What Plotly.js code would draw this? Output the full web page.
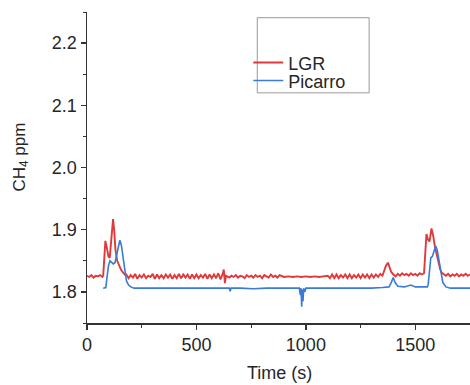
<!DOCTYPE html>
<html>
<head>
<meta charset="utf-8">
<script src="https://cdn.plot.ly/plotly-3.0.1.min.js"></script>
<style>html,body{margin:0;padding:0;background:#fff;}#chart{width:470px;height:385px;}</style>
</head>
<body>
<div id="chart"></div>
<script>
// ---- Data ----
const lgrTime = [0,10,20,30,40,50,60,70,74,80,84,90,98,104,110,115,119,124,130,138,146,155,167,175,
  180,190,200,210,220,230,240,250,260,270,280,290,300,310,320,330,340,350,360,370,380,390,400,410,420,430,440,450,460,470,480,490,500,510,520,530,540,550,560,570,580,590,600,610,620,625,630,635,
  640,650,660,670,680,690,700,710,720,730,740,750,760,770,780,790,800,810,820,830,840,850,860,870,880,890,
  900,920,940,960,980,1000,1020,1040,1060,1080,1100,
  1110,1120,1130,1140,1150,1160,1170,1180,1190,1200,1210,1220,1230,1240,1250,1260,1270,1280,1290,1300,1310,1320,1330,1340,1350,1358,1366,1375,1382,1390,1400,1410,1420,1430,1440,1450,1460,1470,1480,1490,1500,1510,1520,1530,1540,
  1546,1551,1558,1565,1574,1582,1590,1598,1606,1614,1620,1630,1640,1650,1660,1670,1680,1690,1700,1710,1720,1730,1740,1750];
const lgrValues = [1.826,1.824,1.827,1.823,1.826,1.825,1.827,1.824,1.826,1.870,1.882,1.872,1.857,1.855,1.880,1.905,1.917,1.900,1.868,1.850,1.842,1.836,1.830,1.827,
  1.828,1.822,1.827,1.823,1.829,1.821,1.827,1.823,1.828,1.822,1.826,1.824,1.829,1.821,1.828,1.822,1.827,1.822,1.828,1.823,1.828,1.821,1.827,1.822,1.829,1.822,1.828,1.823,1.828,1.821,1.828,1.822,1.828,1.822,1.827,1.823,1.829,1.821,1.828,1.822,1.828,1.822,1.830,1.820,1.829,1.836,1.814,1.826,
  1.825,1.823,1.826,1.824,1.827,1.823,1.826,1.825,1.822,1.827,1.824,1.826,1.823,1.827,1.824,1.826,1.822,1.827,1.825,1.823,1.828,1.824,1.826,1.823,1.827,1.825,
  1.824,1.825,1.824,1.825,1.824,1.825,1.824,1.825,1.824,1.825,1.826,
  1.822,1.828,1.822,1.828,1.822,1.827,1.823,1.828,1.822,1.828,1.822,1.827,1.823,1.828,1.822,1.828,1.823,1.828,1.822,1.828,1.823,1.828,1.824,1.829,1.826,1.834,1.842,1.847,1.840,1.832,1.828,1.825,1.829,1.826,1.830,1.827,1.829,1.826,1.830,1.827,1.829,1.826,1.830,1.828,1.830,
  1.862,1.893,1.884,1.881,1.902,1.890,1.872,1.858,1.845,1.836,1.831,1.828,1.826,1.829,1.825,1.828,1.826,1.829,1.825,1.828,1.826,1.829,1.826,1.828];

const picTime = [74,80,86,92,98,105,112,120,128,135,142,150,157,164,172,180,190,200,215,
  260,320,380,440,500,560,620,650,654,658,700,760,820,880,940,970,975,978,981,984,987,990,995,1000,
  1060,1120,1180,1240,1300,1350,1380,1390,1399,1408,1420,1450,1480,1500,1530,1555,
  1559,1565,1571,1578,1586,1593,1600,1608,1616,1626,1640,1660,1700,1750];
const picValues = [1.806,1.806,1.807,1.825,1.842,1.850,1.848,1.845,1.847,1.858,1.872,1.883,1.875,1.855,1.832,1.818,1.811,1.808,1.806,
  1.806,1.805,1.806,1.806,1.805,1.806,1.805,1.806,1.801,1.806,1.806,1.805,1.806,1.806,1.805,1.806,1.795,1.806,1.776,1.804,1.785,1.806,1.800,1.806,
  1.806,1.806,1.805,1.806,1.806,1.807,1.808,1.815,1.823,1.815,1.809,1.808,1.811,1.808,1.808,1.808,
  1.812,1.838,1.855,1.857,1.866,1.874,1.868,1.852,1.835,1.815,1.808,1.806,1.806,1.806];

const seriesNames = ['LGR', 'Picarro'];
const xTickVals = [0, 500, 1000, 1500];
const yTickVals = [1.8, 1.9, 2.0, 2.1, 2.2];

// ---- Layout / styling ----
const FONT = 'Liberation Sans, Arial, sans-serif';
const TXT = '#262626';
const AX = '#333';
const L = 86.5, T = 12.3, W = 383.5, H = 310.4;
const px = v => (v - L) / W;
const py = v => 1 - (v - T) / H;

const traces = [
  {x: lgrTime, y: lgrValues, name: seriesNames[0], type: 'scatter', mode: 'lines',
   line: {color: '#e0393b', width: 1.9}, legend: 'legend'},
  {x: picTime, y: picValues, name: seriesNames[1], type: 'scatter', mode: 'lines',
   line: {color: '#3a7bd8', width: 1.6}, legend: 'legend2'}
];

const legendCommon = {bgcolor: 'rgba(0,0,0,0)', borderwidth: 0, font: {family: FONT, size: 18, color: TXT},
  xanchor: 'left', yanchor: 'middle', xref: 'paper', yref: 'paper'};

const layout = {
  width: 470, height: 385,
  margin: {l: L, r: 0, t: T, b: 385 - T - H, pad: 0},
  paper_bgcolor: '#fff', plot_bgcolor: '#fff',
  font: {family: FONT, size: 18, color: TXT},
  showlegend: true,
  legend: Object.assign({x: px(248), y: py(63)}, legendCommon),
  legend2: Object.assign({x: px(248), y: py(81)}, legendCommon),
  xaxis: {range: [0, 1750], tickvals: xTickVals, ticktext: xTickVals.map(String),
    showgrid: false, zeroline: false, showline: true, linecolor: AX, linewidth: 1.5,
    ticks: 'outside', ticklen: 5, tickwidth: 1.3, tickcolor: AX,
    tickfont: {family: FONT, size: 18, color: TXT},
    minor: {dtick: 250, tick0: 0, ticks: 'outside', ticklen: 3, tickcolor: AX, tickwidth: 1, showgrid: false},
    fixedrange: true},
  yaxis: {range: [1.75, 2.25], tickvals: yTickVals, ticktext: yTickVals.map(v => v.toFixed(1)),
    showgrid: false, zeroline: false, showline: true, linecolor: AX, linewidth: 1.5,
    ticks: 'outside', ticklen: 5, tickwidth: 1.3, tickcolor: AX,
    tickfont: {family: FONT, size: 18, color: TXT},
    minor: {dtick: 0.05, tick0: 1.75, ticks: 'outside', ticklen: 3, tickcolor: AX, tickwidth: 1, showgrid: false},
    fixedrange: true},
  shapes: [
    {type: 'rect', xref: 'paper', yref: 'paper', x0: px(257), x1: px(369), y0: py(93), y1: py(18),
     line: {color: '#999', width: 1}, fillcolor: 'rgba(0,0,0,0)'}
  ],
  annotations: [
    {text: 'Time (s)', xref: 'paper', yref: 'paper', x: px(279), y: py(373), xanchor: 'center', yanchor: 'middle',
     showarrow: false, font: {family: FONT, size: 18, color: TXT}},
    {text: 'CH<sub>4</sub> ppm', xref: 'paper', yref: 'paper', x: px(20), y: py(157), xanchor: 'center', yanchor: 'middle',
     textangle: -90, showarrow: false, font: {family: FONT, size: 17, color: TXT}}
  ]
};

Plotly.newPlot('chart', traces, layout, {displayModeBar: false, staticPlot: true});
</script>
</body>
</html>
